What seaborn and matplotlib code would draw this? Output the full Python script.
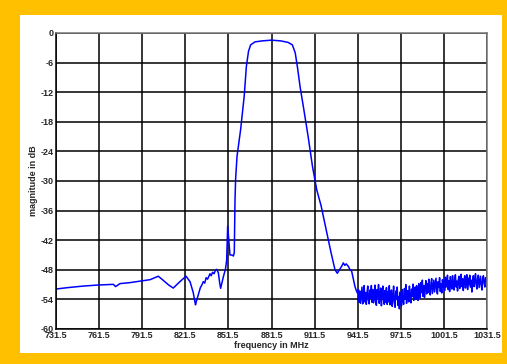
import numpy as np
import pandas as pd
import matplotlib
matplotlib.use("Agg")
import matplotlib.pyplot as plt
import seaborn as sns
from matplotlib.patches import Rectangle

# ---- data ----
shape_freq = [731.5, 740.0, 750.5, 760.0, 771.4, 773.0, 776.0, 783.0, 790.0, 797.0,
              802.7, 806.0, 810.0, 813.1, 817.0, 822.0, 824.8, 827.0, 828.6, 829.2,
              830.5, 832.0, 833.0, 834.0, 835.0, 836.0, 837.0, 838.7, 839.5, 840.5,
              841.5, 842.5, 843.4, 844.5, 845.4,
              846.1, 847.0, 848.0, 849.5, 850.3, 851.0, 851.8, 852.6, 854.0, 855.0,
              855.6, 856.1, 856.5, 857.5, 860.0, 862.5, 864.0, 865.5, 867.0, 870.0,
              875.0, 881.5, 888.0, 893.0, 896.0, 898.0, 899.5, 901.5, 904.0, 907.0,
              910.0, 913.0, 916.0, 920.0, 923.0, 925.7, 927.3, 929.0, 930.5, 931.5,
              932.5, 933.5, 935.0, 936.0, 937.3, 938.5, 939.6, 940.5, 941.5]
shape_db = [-51.9, -51.6, -51.3, -51.1, -50.95, -51.4, -50.8, -50.6, -50.3, -50.0,
            -49.3, -50.1, -51.1, -51.7, -50.6, -49.3, -50.4, -52.6, -55.1, -54.4,
            -53.1, -51.6, -51.1, -50.4, -50.7, -49.6, -49.9, -48.8, -49.2, -48.5,
            -48.8, -48.1, -47.9, -48.6, -50.6,
            -51.75, -50.6, -49.4, -47.8, -46.0, -39.1, -42.0, -45.0, -45.0, -45.2,
            -44.5, -33.9, -29.7, -25.0, -19.6, -12.8, -6.8, -3.7, -2.4, -1.8,
            -1.6, -1.45, -1.6, -1.9, -2.4, -4.0, -6.8, -11.1, -15.5, -21.0,
            -27.0, -31.8, -35.0, -40.5, -44.6, -48.0, -48.7, -47.9, -47.2, -46.6,
            -47.1, -46.8, -47.3, -47.9, -48.3, -49.9, -51.4, -52.2, -52.8]

noise_start = 942.0
noise_step = 0.5
noise_db = [
    -52.0, -54.6, -52.3, -54.8, -53.1, -51.5, -54.9, -53.4, -51.2, -54.5,
    -52.6, -55.0, -52.7, -51.3, -54.2, -54.9, -52.1, -53.8, -51.2, -54.6,
    -52.0, -54.7, -53.3, -51.1, -54.4, -55.2, -52.0, -53.6, -51.0, -54.8,
    -53.0, -51.7, -55.3, -52.6, -51.3, -54.1, -55.0, -52.2, -54.6, -51.6,
    -55.0, -52.4, -54.5, -51.2, -55.1, -53.3, -52.1, -55.4, -53.6, -51.3,
    -54.6, -55.6, -52.3, -54.0, -51.5, -55.2, -53.4, -55.9, -52.5, -54.2,
    -55.3, -52.0, -54.3, -55.0, -51.8, -53.9, -51.0, -54.8, -53.1, -52.2,
    -54.5, -51.3, -53.6, -54.7, -51.9, -53.4, -50.9, -54.2, -52.5, -51.5,
    -54.0, -51.2, -53.2, -54.2, -50.8, -52.8, -53.7, -50.6, -52.6, -50.1,
    -53.4, -51.2, -53.6, -51.5, -50.2, -52.9, -50.8, -52.6, -49.9, -52.2,
    -53.1, -50.7, -49.8, -52.8, -51.4, -50.1, -52.5, -51.1, -49.7, -52.2,
    -52.9, -50.4, -51.6, -49.6, -52.4, -50.8, -52.7, -50.0, -51.5, -50.3,
    -52.2, -49.5, -51.5, -50.4, -49.1, -52.0, -50.2, -52.4, -49.4, -51.0,
    -51.9, -49.2, -50.8, -52.1, -49.9, -49.0, -51.5, -50.3, -52.3, -50.0,
    -49.3, -51.8, -50.5, -48.9, -51.4, -49.8, -52.2, -50.2, -49.2, -51.7,
    -50.6, -49.0, -52.0, -49.7, -51.0, -49.1, -51.5, -50.1, -52.5, -50.3,
    -49.2, -51.4, -50.2, -48.8, -51.1, -51.9, -49.6, -49.1, -51.6, -50.4,
    -49.3, -51.2, -52.1, -49.8, -49.2, -50.7, -51.5, -49.6, -50.3, -50.0,
]
noise_freq = list(noise_start + noise_step * np.arange(len(noise_db)))

x_ticks = [731.5, 761.5, 791.5, 821.5, 851.5, 881.5, 911.5, 941.5, 971.5, 1001.5, 1031.5]
y_ticks = [0, -6, -12, -18, -24, -30, -36, -42, -48, -54, -60]

df = pd.DataFrame({"freq": shape_freq + noise_freq, "db": shape_db + noise_db})

# ---- figure ----
sns.set_style("white")
plt.rcParams["font.family"] = ["Liberation Sans", "DejaVu Sans"]

fig = plt.figure(figsize=(5.07, 3.64), dpi=100)
fig.patch.set_facecolor("#FFC000")
fig.patches.append(Rectangle((20 / 507, 1 - 353 / 364), 482 / 507, 338 / 364,
                             transform=fig.transFigure, facecolor="white",
                             edgecolor="none", zorder=-10))
ax = fig.add_axes([56 / 507, 1 - 329 / 364, 431 / 507, 296 / 364])
ax.set_facecolor("white")

sns.lineplot(data=df, x="freq", y="db", ax=ax, color="#0000FF", lw=1.1,
             sort=False, estimator=None)

ax.set_xlim(731.5, 1031.5)
ax.set_ylim(-60, 0)
ax.set_xticks(x_ticks)
ax.set_xticklabels([f"{t:g}" for t in x_ticks])
ax.set_yticks(y_ticks)
ax.set_yticklabels([str(t) for t in y_ticks])
ax.grid(True, color="black", lw=1.1, ls="-")
ax.set_axisbelow(True)
ax.tick_params(direction="in", length=3, width=0.8, labelsize=6.5, pad=1.5, color="black")
for lab in ax.get_xticklabels() + ax.get_yticklabels():
    lab.set_fontweight("bold")
for s in ax.spines.values():
    s.set_color("black")
    s.set_linewidth(1.1)
ax.spines["top"].set_color("#777777")
ax.spines["right"].set_color("#777777")

ax.set_xlabel("frequency in MHz", fontsize=6.5, fontweight="bold", labelpad=1)
ax.set_ylabel("magnitude in dB", fontsize=6.5, fontweight="bold", labelpad=2)

fig.savefig("out.png", dpi=100, facecolor=fig.get_facecolor())
